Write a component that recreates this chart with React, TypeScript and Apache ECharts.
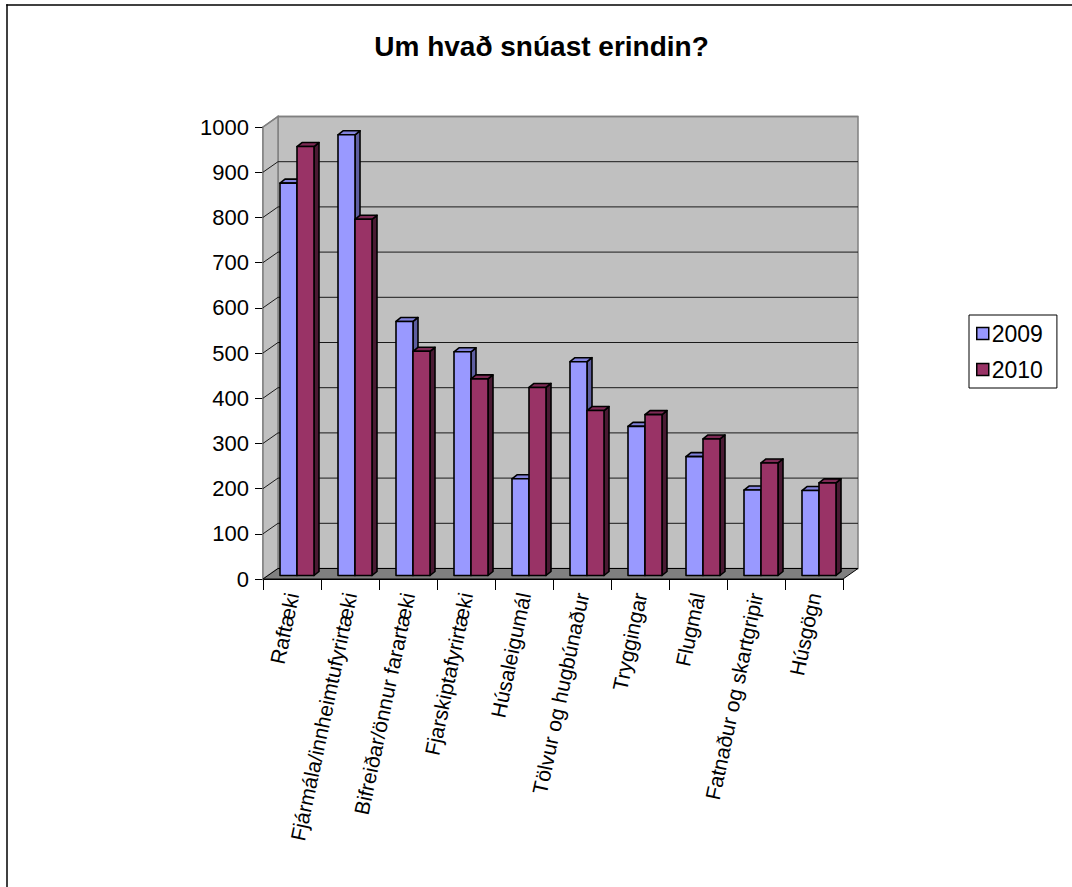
import React, { useEffect, useRef } from "react";
import * as echarts from "echarts";

const TITLE = "Um hvað snúast erindin?";
const CATEGORIES = [
  "Raftæki",
  "Fjármála/innheimtufyrirtæki",
  "Bifreiðar/önnur farartæki",
  "Fjarskiptafyrirtæki",
  "Húsaleigumál",
  "Tölvur og hugbúnaður",
  "Tryggingar",
  "Flugmál",
  "Fatnaður og skartgripir",
  "Húsgögn",
];
const SERIES_NAMES = ["2009", "2010"];
const VALUES_2009 = [868, 975, 562, 495, 214, 473, 330, 263, 189, 188];
const VALUES_2010 = [949, 788, 496, 435, 416, 365, 356, 302, 249, 205];
const Y_TICKS = [0, 100, 200, 300, 400, 500, 600, 700, 800, 900, 1000];

// 3D look geometry (pixels)
const DEPTH_DX = 15;
const DEPTH_DY = -10.5;
const FRONT_DX = 5;
const FRONT_DY = -3.5;
const BAR_W = 17;
const SIDE_DX = 5;
const SIDE_DY = -4;

const FONT = "'Liberation Sans', Arial, sans-serif";

const COLORS = [
  { front: "#9999FF", top: "#8282DC", side: "#5E5EA0" },
  { front: "#993366", top: "#7E2A55", side: "#4A1A33" },
];

function barSeries(name: string, values: number[], si: number) {
  const c = COLORS[si];
  return {
    type: "custom",
    name,
    z: 3 + si,
    itemStyle: { color: c.front, borderColor: "#000", borderWidth: 1 },
    encode: { x: 0, y: 1 },
    data: values.map((v, i) => [i, v]),
    renderItem: (params: any, api: any) => {
      const idx = api.value(0);
      const val = api.value(1);
      const base = api.coord([idx, 0]);
      const top = api.coord([idx, val]);
      const cx = base[0] + FRONT_DX;
      const x0 = si === 0 ? cx - BAR_W : cx;
      const x1 = x0 + BAR_W;
      const yb = base[1] + FRONT_DY;
      const yt = top[1] + FRONT_DY;
      const stroke = { stroke: "#000", lineWidth: 1.6, lineJoin: "round" };
      return {
        type: "group",
        children: [
          {
            type: "polygon",
            shape: {
              points: [
                [x1, yb],
                [x1, yt],
                [x1 + SIDE_DX, yt + SIDE_DY],
                [x1 + SIDE_DX, yb + SIDE_DY],
              ],
            },
            style: { fill: c.side, ...stroke },
          },
          {
            type: "polygon",
            shape: {
              points: [
                [x0, yt],
                [x1, yt],
                [x1 + SIDE_DX, yt + SIDE_DY],
                [x0 + SIDE_DX, yt + SIDE_DY],
              ],
            },
            style: { fill: c.top, ...stroke },
          },
          {
            type: "rect",
            shape: { x: x0, y: yt, width: x1 - x0, height: yb - yt },
            style: { fill: c.front, ...stroke },
          },
        ],
      };
    },
  };
}

const wallsSeries = {
  type: "custom",
  name: "walls",
  z: 1,
  silent: true,
  encode: { x: 0, y: 1 },
  data: [[0, 0]],
  renderItem: (params: any, api: any) => {
    const band = api.size([1, 0])[0];
    const first = api.coord([0, 0]);
    const last = api.coord([CATEGORIES.length - 1, 0]);
    const L = first[0] - band / 2;
    const R = last[0] + band / 2;
    const y0 = first[1];
    const yMax = api.coord([0, Y_TICKS[Y_TICKS.length - 1]])[1];
    const children: any[] = [];
    children.push({
      type: "rect",
      shape: { x: L + DEPTH_DX, y: yMax + DEPTH_DY, width: R - L, height: y0 - yMax },
      style: { fill: "#C0C0C0", stroke: "#808080", lineWidth: 1.5 },
    });
    children.push({
      type: "polygon",
      shape: {
        points: [
          [L, yMax],
          [L + DEPTH_DX, yMax + DEPTH_DY],
          [L + DEPTH_DX, y0 + DEPTH_DY],
          [L, y0],
        ],
      },
      style: { fill: "#C0C0C0", stroke: "#808080", lineWidth: 1.5 },
    });
    children.push({
      type: "polygon",
      shape: {
        points: [
          [L, y0],
          [L + DEPTH_DX, y0 + DEPTH_DY],
          [R + DEPTH_DX, y0 + DEPTH_DY],
          [R, y0],
        ],
      },
      style: { fill: "#808080", stroke: "#000", lineWidth: 1 },
    });
    Y_TICKS.forEach((t) => {
      if (t === 0) return;
      const y = api.coord([0, t])[1];
      const isLast = t === Y_TICKS[Y_TICKS.length - 1];
      const col = isLast ? "#808080" : "#1a1a1a";
      children.push({
        type: "polyline",
        shape: {
          points: [
            [L, y],
            [L + DEPTH_DX, y + DEPTH_DY],
            [R + DEPTH_DX, y + DEPTH_DY],
          ],
        },
        style: { stroke: col, lineWidth: isLast ? 1.5 : 1, fill: "none" },
      });
    });
    return { type: "group", children };
  },
};

export default function App() {
  const ref = useRef<HTMLDivElement>(null);
  useEffect(() => {
    if (!ref.current) return;
    const chart = echarts.init(ref.current, undefined, { renderer: "svg" });
    chart.setOption({
      animation: false,
      backgroundColor: "#fff",
      textStyle: { fontFamily: FONT },
      grid: { left: 263, top: 127, width: 580, height: 452 },
      graphic: [
        {
          type: "line",
          shape: { x1: 7, y1: 4.25, x2: 7, y2: 887 },
          style: { stroke: "#000", lineWidth: 1.5 },
          z: 100,
        },
        {
          type: "line",
          shape: { x1: 6.25, y1: 5, x2: 1072, y2: 5 },
          style: { stroke: "#000", lineWidth: 1.5 },
          z: 100,
        },
        {
          type: "text",
          x: 541.5,
          y: 46,
          style: {
            text: TITLE,
            fontFamily: FONT,
            fontWeight: "bold",
            fontSize: 28,
            fill: "#000",
            textAlign: "center",
            textVerticalAlign: "middle",
          },
        },
      ],
      legend: {
        data: SERIES_NAMES,
        orient: "vertical",
        left: 969,
        top: 315,
        padding: [7, 14, 7, 7],
        itemGap: 13,
        itemWidth: 12,
        itemHeight: 12,
        icon: "rect",
        borderColor: "#000",
        borderWidth: 1,
        borderRadius: 0,
        textStyle: { fontSize: 23, color: "#000", fontFamily: FONT, lineHeight: 23, padding: [0, 0, 0, -2] },
        itemStyle: { borderColor: "#000", borderWidth: 1.5 },
      },
      xAxis: {
        type: "category",
        data: CATEGORIES,
        boundaryGap: true,
        axisLine: { show: true, lineStyle: { color: "#000", width: 1 } },
        axisTick: { show: true, length: 11, lineStyle: { color: "#000" } },
        axisLabel: {
          interval: 0,
          rotate: 78,
          fontSize: 21,
          color: "#000",
          fontFamily: FONT,
          margin: 14,
        },
        splitLine: { show: false },
      },
      yAxis: {
        type: "value",
        min: 0,
        max: 1000,
        interval: 100,
        axisLine: { show: true, lineStyle: { color: "#808080", width: 1.5 } },
        axisTick: { show: true, length: 8, lineStyle: { color: "#000" } },
        axisLabel: {
          fontSize: 22,
          color: "#000",
          fontFamily: FONT,
          margin: 14,
          formatter: (v: number) => String(v),
        },
        splitLine: { show: false },
      },
      series: [
        wallsSeries,
        barSeries(SERIES_NAMES[0], VALUES_2009, 0),
        barSeries(SERIES_NAMES[1], VALUES_2010, 1),
      ],
    });
    return () => chart.dispose();
  }, []);
  return (
    <div
      ref={ref}
      style={{ position: "absolute", left: 0, top: 0, width: 1072, height: 887 }}
    />
  );
}
